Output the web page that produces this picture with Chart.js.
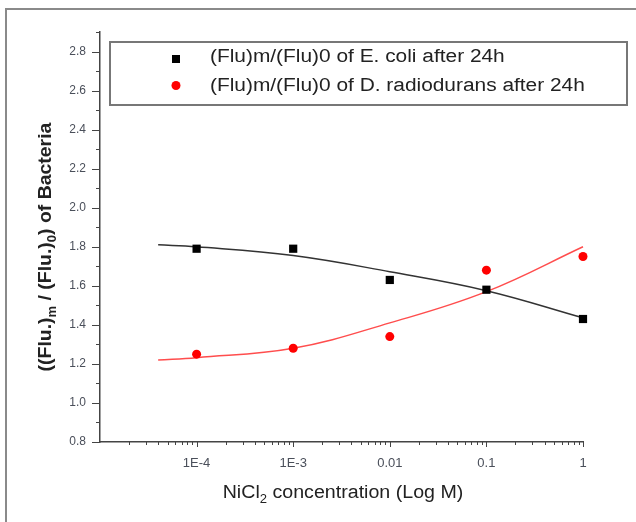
<!DOCTYPE html>
<html lang="en">
<head>
<meta charset="UTF-8">
<title>Flu ratio vs NiCl2</title>
<style>
  html, body { margin: 0; padding: 0; background: #fff; }
</style>
</head>
<body>
<canvas id="myChart" width="636" height="522"></canvas>
<script src="https://cdn.jsdelivr.net/npm/chart.js"></script>
<script>
// measured points
const concentrations = [1e-4, 1e-3, 1e-2, 1e-1, 1];
const ecoliValues = [1.79, 1.79, 1.63, 1.58, 1.43];
const radioValues = [1.25, 1.28, 1.34, 1.68, 1.75];

// fitted curves
const fitX = [4e-5, 1e-4, 1e-3, 1e-2, 1e-1, 1];
const ecoliFit = [1.81, 1.80, 1.755, 1.672, 1.575, 1.436];
const radioFit = [1.22, 1.232, 1.28, 1.41, 1.57, 1.80];

const xTickValues = [1e-4, 1e-3, 1e-2, 1e-1, 1];
const xTickLabels = ["1E-4", "1E-3", "0.01", "0.1", "1"];
const yTickValues = [0.8, 1.0, 1.2, 1.4, 1.6, 1.8, 2.0, 2.2, 2.4, 2.6, 2.8];
const yMinorValues = [0.9, 1.1, 1.3, 1.5, 1.7, 1.9, 2.1, 2.3, 2.5, 2.7, 2.9];
const seriesLabels = [
    "(Flu)m/(Flu)0 of E. coli after 24h",
    "(Flu)m/(Flu)0 of D. radiodurans after 24h"
];

const FONT = '"Liberation Sans", Arial, sans-serif';
const AXIS_COLOR = "#444";

function f_points(xs, ys) {
    return xs.map((x, i) => ({ x: x, y: ys[i] }));
}

// text with subscripts, centred on (0,0) of current transform
function f_richText(c, parts, size, weight) {
    const subSize = Math.round(size * 0.65);
    let total = 0;
    parts.forEach(p => {
        c.font = weight + " " + (p.sub ? subSize : size) + "px " + FONT;
        p.w = c.measureText(p.t).width;
        total += p.w;
    });
    let x = -total / 2;
    c.textBaseline = "middle";
    c.textAlign = "left";
    parts.forEach(p => {
        c.font = weight + " " + (p.sub ? subSize : size) + "px " + FONT;
        c.fillText(p.t, x, p.sub ? size * 0.38 : 0);
        x += p.w;
    });
}

const decorPlugin = {
    id: "decor",
    beforeDraw(chart) {
        const c = chart.ctx;
        c.save();
        c.fillStyle = "#fff";
        c.fillRect(0, 0, chart.width, chart.height);
        // outer frame (only top and left are visible)
        c.strokeStyle = "#8a8a8a";
        c.lineWidth = 2;
        c.beginPath();
        c.moveTo(6, 522);
        c.lineTo(6, 9);
        c.lineTo(636, 9);
        c.stroke();
        c.restore();
    },
    afterDraw(chart) {
        const c = chart.ctx;
        const xs = chart.scales.x;
        const ys = chart.scales.y;
        const area = chart.chartArea;
        c.save();
        c.strokeStyle = AXIS_COLOR;
        c.lineWidth = 1;

        // y ticks (outside, to the left)
        yTickValues.forEach(v => {
            const py = Math.round(ys.getPixelForValue(v)) + 0.5;
            c.beginPath(); c.moveTo(area.left - 8, py); c.lineTo(area.left, py); c.stroke();
        });
        yMinorValues.forEach(v => {
            const py = Math.round(ys.getPixelForValue(v)) + 0.5;
            c.beginPath(); c.moveTo(area.left - 4, py); c.lineTo(area.left, py); c.stroke();
        });

        // x ticks (outside, below)
        xTickValues.forEach(v => {
            const px = Math.round(xs.getPixelForValue(v)) + 0.5;
            c.beginPath(); c.moveTo(px, area.bottom); c.lineTo(px, area.bottom + 5); c.stroke();
        });
        for (let k = -5; k < 0; k++) {
            for (let d = 2; d <= 9; d++) {
                const px = Math.round(xs.getPixelForValue(d * Math.pow(10, k))) + 0.5;
                c.beginPath(); c.moveTo(px, area.bottom); c.lineTo(px, area.bottom + 3); c.stroke();
            }
        }

        // legend box inside the plot
        c.fillStyle = "#fff";
        c.fillRect(110, 42, 517, 63);
        c.strokeStyle = "#777";
        c.lineWidth = 2;
        c.strokeRect(110, 42, 517, 63);
        const ds = chart.data.datasets;
        c.fillStyle = ds[0].backgroundColor;
        c.fillRect(172, 55, 8, 8);
        c.fillStyle = ds[1].backgroundColor;
        c.beginPath(); c.arc(176, 85.5, 4.5, 0, Math.PI * 2); c.fill();
        c.fillStyle = "#222";
        c.font = "18px " + FONT;
        c.textBaseline = "middle";
        c.textAlign = "left";
        [ds[0].label, ds[1].label].forEach((t, i) => {
            c.save();
            c.translate(210, i === 0 ? 57 : 86.5);
            c.scale(1.16, 1);
            c.fillText(t, 0, 0);
            c.restore();
        });

        // axis titles
        c.fillStyle = "#222";
        c.save();
        c.translate(343, 493);
        c.scale(1.09, 1);
        f_richText(c, [{ t: "NiCl" }, { t: "2", sub: true }, { t: " concentration (Log M)" }], 18, "normal");
        c.restore();

        c.save();
        c.translate(46, 247);
        c.rotate(-Math.PI / 2);
        c.scale(1.08, 1);
        f_richText(c, [{ t: "((Flu.)" }, { t: "m", sub: true }, { t: " / (Flu.)" }, { t: "0", sub: true }, { t: ") of Bacteria" }], 18, "bold");
        c.restore();

        c.restore();
    }
};

const ctx = document.getElementById("myChart");

const myChart = new Chart(ctx, {
    type: "scatter",
    data: {
        datasets: [
            {
                label: seriesLabels[0],
                data: f_points(concentrations, ecoliValues),
                pointStyle: "rect",
                pointRadius: 5.8,
                backgroundColor: "#000000",
                borderColor: "#000000",
                borderWidth: 0,
                clip: false,
                order: 1
            },
            {
                label: seriesLabels[1],
                data: f_points(concentrations, radioValues),
                pointStyle: "circle",
                pointRadius: 4.5,
                backgroundColor: "#ff0000",
                borderColor: "#ff0000",
                borderWidth: 0,
                clip: false,
                order: 1
            },
            {
                label: "E. coli fit",
                data: f_points(fitX, ecoliFit),
                showLine: true,
                pointRadius: 0,
                borderColor: "#333333",
                borderWidth: 1.5,
                tension: 0.4,
                clip: false,
                order: 2
            },
            {
                label: "D. radiodurans fit",
                data: f_points(fitX, radioFit),
                showLine: true,
                pointRadius: 0,
                borderColor: "#ff4d4d",
                borderWidth: 1.5,
                tension: 0.4,
                clip: false,
                order: 2
            }
        ]
    },
    options: {
        responsive: false,
        animation: false,
        layout: { padding: { top: 32, right: 53, left: 0, bottom: 0 } },
        plugins: {
            legend: { display: false },
            tooltip: { enabled: false }
        },
        scales: {
            x: {
                type: "logarithmic",
                min: 1e-5,
                max: 1,
                afterBuildTicks: s => { s.ticks = xTickValues.map(v => ({ value: v })); },
                afterFit: s => { s.height = 80; },
                ticks: {
                    callback: (v, i) => xTickLabels[i],
                    color: "#4a4f5a",
                    font: { family: FONT, size: 13 },
                    padding: 14,
                    maxRotation: 0,
                    autoSkip: false
                },
                grid: { drawOnChartArea: false, drawTicks: false },
                border: { color: AXIS_COLOR, width: 1.5 }
            },
            y: {
                min: 0.8,
                max: 2.9,
                afterBuildTicks: s => { s.ticks = yTickValues.map(v => ({ value: v })); },
                afterFit: s => { s.width = 100; },
                ticks: {
                    callback: v => v.toFixed(1),
                    color: "#4a4f5a",
                    font: { family: FONT, size: 12 },
                    padding: 14,
                    autoSkip: false
                },
                grid: { drawOnChartArea: false, drawTicks: false },
                border: { color: AXIS_COLOR, width: 1.5 }
            }
        }
    },
    plugins: [decorPlugin]
});
</script>
</body>
</html>
